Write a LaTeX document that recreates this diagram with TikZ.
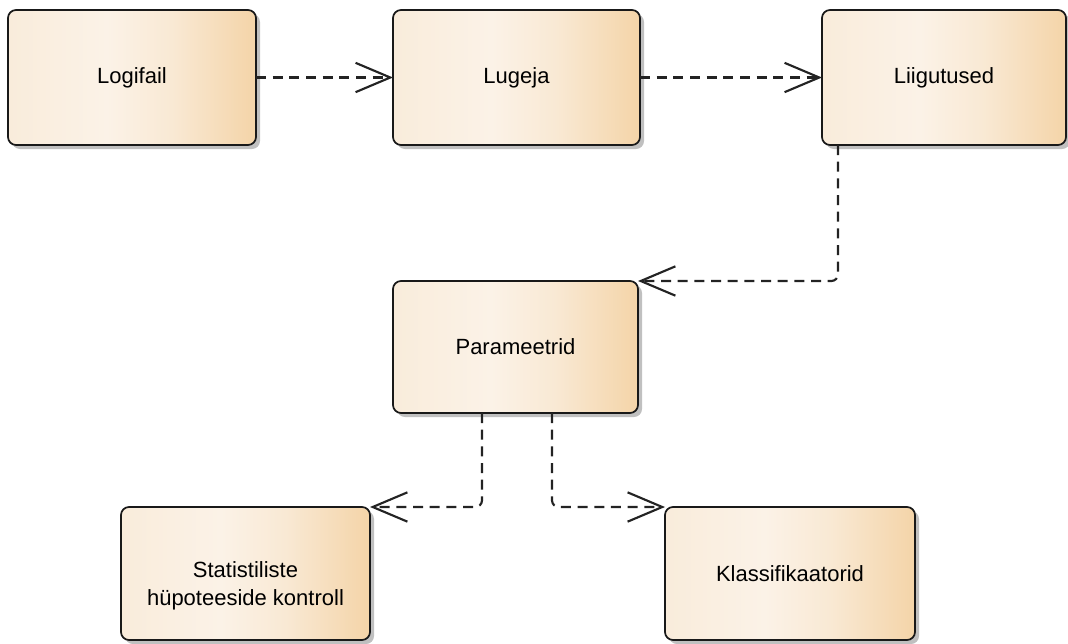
\documentclass[tikz,border=0pt]{standalone}
\usepackage{fontspec}
\setmainfont{Liberation Sans}
\usetikzlibrary{arrows.meta,shadows}
\definecolor{boxl}{RGB}{249,236,219}
\definecolor{boxm}{RGB}{251,242,231}
\definecolor{boxn}{RGB}{249,233,212}
\definecolor{boxr}{RGB}{244,212,168}
\definecolor{edge}{RGB}{25,25,25}
\definecolor{lnk}{RGB}{35,35,35}
\pgfdeclarehorizontalshading{boxshade}{100bp}{color(0bp)=(boxl); color(25bp)=(boxl); color(45bp)=(boxm); color(58bp)=(boxn); color(75bp)=(boxr); color(100bp)=(boxr)}
\tikzset{
  comp/.style={rectangle, rounded corners=6pt, draw=edge, line width=1.3pt,
    shading=boxshade,
    inner sep=0pt, outer sep=0pt, align=center,
    font=\fontsize{16.5pt}{21pt}\selectfont,
    drop shadow={shadow xshift=3pt, shadow yshift=-3pt, fill=black!45, opacity=0.55}},
  dep/.style={draw=lnk, line width=1.6pt, dash pattern=on 7.5pt off 5pt,
    rounded corners=5pt,
    -{Straight Barb[length=26pt, width=22pt, line width=1.6pt]}},
}
\begin{document}
\begin{tikzpicture}[x=0.75pt, y=-0.75pt]
\useasboundingbox (0,0) rectangle (1068,643);
\node[comp, minimum width=186pt, minimum height=101.25pt] (logi) at (132,77.5) {Logifail};
\node[comp, minimum width=185.25pt, minimum height=101.25pt] (lug) at (516.5,77.5) {Lugeja};
\node[comp, minimum width=183pt, minimum height=101.25pt] (liig) at (944,77.5) {Liigutused};
\node[comp, minimum width=183.75pt, minimum height=99pt] (par) at (515.5,347) {Parameetrid};
\node[comp, minimum width=186.75pt, minimum height=99.75pt] (stat) at (245.5,573.5) {};
\node[font=\fontsize{16.5pt}{21pt}\selectfont, align=center] (statt) at (245.5,586) {Statistiliste\\hüpoteeside kontroll};
\node[comp, minimum width=187.5pt, minimum height=99.75pt] (klass) at (790,573.5) {Klassifikaatorid};
\draw[dep] (logi.east) -- (lug.west);
\draw[dep] (lug.east) -- (liig.west);
\draw[dep] ([xshift=12pt]liig.south west) |- (par.north east);
\draw[dep] ([xshift=66.75pt]par.south west) |- (stat.north east);
\draw[dep] ([xshift=119.25pt]par.south west) |- (klass.north west);
\end{tikzpicture}
\end{document}
